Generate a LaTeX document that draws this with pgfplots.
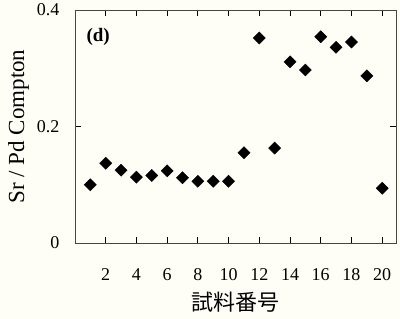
\documentclass[border=0pt]{standalone}
\usepackage{pgfplots}
\pgfplotsset{compat=1.18}
\usetikzlibrary{backgrounds,calc}
\usepackage{fontspec}
\setmainfont{Liberation Serif}
\newfontfamily\cjk{Noto Sans CJK JP}
\definecolor{paper}{RGB}{254,254,246}
\definecolor{axcol}{RGB}{70,72,60}
\pgfplotstableread{
x y
1 0.100
2 0.137
3 0.125
4 0.113
5 0.116
6 0.124
7 0.112
8 0.106
9 0.106
10 0.106
11 0.155
12 0.352
13 0.163
14 0.311
15 0.297
16 0.354
17 0.336
18 0.345
19 0.287
20 0.094
}\datatable
\begin{document}
\begin{tikzpicture}
\begin{axis}[name=ax, at={(0,0)}, anchor=south west,
  scale only axis, width=321pt, height=233pt,
  xmin=0, xmax=20.9, ymin=0, ymax=0.4,
  xtick={2,4,...,20}, ytick={0,0.2,0.4},
  yticklabels={0,0.2,0.4},
  tick align=inside, major tick length=6pt,
  axis line style={axcol, line width=0.9pt},
  every tick/.style={black, line width=0.8pt},
  tick label style={font=\fontsize{18}{18}\selectfont},
  /pgf/number format/assume math mode=true,
  xticklabel style={yshift=-22pt},
  yticklabel style={xshift=-12pt},
  xlabel={\cjk\fontsize{22}{22}\selectfont 試料番号},
  xlabel style={yshift=-4pt},
  ylabel={\fontsize{23}{23}\selectfont Sr / Pd Compton},
  ylabel style={yshift=1pt},
  clip=false,
]
\addplot[only marks, mark=square*, mark size=4.3pt, mark options={rotate=45}, black] table[x=x,y=y] {\datatable};
\node[anchor=north west, font=\fontsize{19}{19}\selectfont\bfseries] at (rel axis cs:0.025,0.935) {(d)};
\end{axis}
\begin{pgfonlayer}{background}
\fill[paper] ($(ax.south west)+(-75pt,-76pt)$) rectangle ($(ax.south west)+(325pt,243pt)$);
\end{pgfonlayer}
\end{tikzpicture}
\end{document}
